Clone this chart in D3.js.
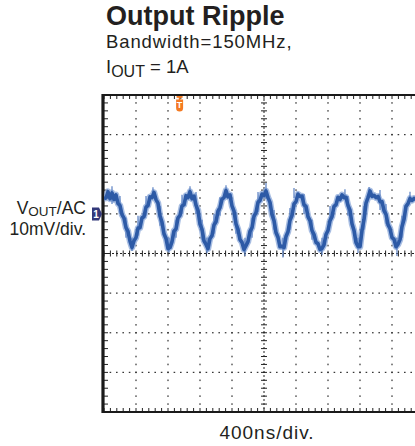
<!DOCTYPE html>
<html><head><meta charset="utf-8">
<script src="https://cdn.jsdelivr.net/npm/d3@7"></script>
<style>
html,body{margin:0;padding:0;background:#fff;}
svg{display:block;}
text{font-family:"Liberation Sans",Arial,Helvetica,sans-serif;fill:#231f20;}
</style></head>
<body>
<svg id="chart" width="415" height="446"></svg>
<script>
const title = "Output Ripple";
const subtitle = "Bandwidth=150MHz,";
const timePerDivNs = 400;          // 400ns/div
const voltPerDivMv = 10;           // 10mV/div
const hDivisions = 10;
const vDivisions = 8;
const sampleStepNs = 25;
// V_OUT (AC) trace in mV, referenced to scope centre line, one sample every 25 ns
const rippleMv = [
 13.9,14.0,15.6,13.8,15.3,13.6,14.8,12.6,12.1,9.8,
 8.9,6.5,5.6,3.1,1.5,3.2,4.0,6.4,6.5,9.0,
 9.3,11.7,12.1,14.3,14.1,15.4,13.6,12.7,9.5,7.9,
 5.0,3.8,1.2,1.5,3.0,5.7,6.2,9.0,9.6,12.0,
 12.3,14.6,14.1,15.6,13.8,14.5,12.2,10.9,7.4,6.1,
 3.2,2.3,1.2,3.8,4.5,7.2,8.0,10.7,11.6,13.7,
 14.1,15.9,14.3,14.8,12.0,10.7,7.5,6.1,3.5,2.8,
 1.0,2.0,3.0,5.6,6.5,9.4,10.3,12.9,13.4,15.0,
 14.6,15.8,14.1,12.9,9.8,8.3,5.3,4.1,1.7,1.8,
 1.5,4.3,5.5,8.4,9.6,12.5,13.1,15.0,14.4,14.5,
 12.3,11.9,9.3,8.3,5.8,4.8,2.8,2.5,1.0,1.3,
 2.2,4.8,5.8,8.3,9.3,11.9,12.3,14.2,13.6,14.8,
 14.1,14.2,12.1,10.9,7.5,5.8,2.8,1.8,1.7,5.8,
 8.6,12.7,14.1,15.8,14.4,14.7,14.1,14.4,13.1,13.1,
 10.8,9.9,7.3,6.3,4.0,3.6,1.7,2.3,3.5,6.8,
 8.6,11.9,12.6,13.9,13.4,13.9,13.6
];
// noise spikes: time ns, low mV, high mV
const spikeTimesNs = [350,812,1287,1762,2237,2725,3175,3662, 612,1075,1525,2025,2375,3012,3313,3825,
  100,200,275,425,525,700,900,975,1150,1225,1375,1450,1650,1850,1925,2125,2325,2500,2600,2825,3050,3250,3450,3525,3725];
const spikeLowMv   = [0.6,0.2,0.0,-0.6,-1.0,-0.4,0.1,-0.6, 14.0,14.0,14.0,14.0,14.0,14.0,14.0,13.5,
  12.5,10.0,4.0,4.5,9.5,7.0,4.0,10.0,10.0,3.5,5.0,9.5,5.0,4.0,10.5,6.0,6.0,10.0,3.5,7.0,9.5,6.0,11.0,7.5,4.0];
const spikeHighMv  = [4.0,4.0,4.0,4.0,4.0,4.0,4.0,4.0, 16.7,17.0,17.2,17.8,16.5,16.2,16.8,15.6,
  17.0,14.5,9.0,9.5,14.5,12.0,8.5,14.8,15.5,8.5,10.0,14.2,10.5,9.0,15.5,11.0,11.5,15.0,8.5,12.0,14.5,12.0,16.0,12.5,9.5];
const channelOffsetMv = 10;   // channel 1 ground marker
const triggerTimeNs = 945;    // trigger marker position
const xLabel = "400ns/div.";

// ---- layout ----
const svg = d3.select("#chart");
const L = 104, R = 424, T = 95, B = 412;
const x = d3.scaleLinear().domain([0, hDivisions*timePerDivNs]).range([L, R]);
const y = d3.scaleLinear().domain([-vDivisions/2*voltPerDivMv, vDivisions/2*voltPerDivMv]).range([B, T]);

const minorT = d3.range(0, hDivisions*timePerDivNs + 1, timePerDivNs/5);
const minorV = d3.range(-vDivisions/2*voltPerDivMv, vDivisions/2*voltPerDivMv + 0.01, voltPerDivMv/5);
const majorT = d3.range(1, hDivisions).map(k => k*timePerDivNs).filter(t => t !== hDivisions/2*timePerDivNs);
const majorV = d3.range(-vDivisions/2+1, vDivisions/2).map(k => k*voltPerDivMv).filter(v => v !== 0);

const grid = svg.append("g").attr("fill", "#333");
majorT.forEach(t => {
  grid.selectAll(null).data(minorV.slice(1, -1)).enter().append("rect")
    .attr("x", x(t) - 0.6).attr("y", d => y(d) - 0.8).attr("width", 1.2).attr("height", 1.6);
});
majorV.forEach(v => {
  grid.selectAll(null).data(minorT.slice(1, -1)).enter().append("rect")
    .attr("x", d => x(d) - 0.8).attr("y", y(v) - 0.6).attr("width", 1.6).attr("height", 1.2);
});

const axes = svg.append("g").attr("stroke", "#222");
axes.append("line").attr("x1", x(2000)).attr("x2", x(2000)).attr("y1", T).attr("y2", B)
  .attr("stroke-width", 1).attr("stroke-dasharray", "2,2");
axes.selectAll(null).data(minorV).enter().append("line")
  .attr("x1", x(2000) - 3).attr("x2", x(2000) + 3).attr("y1", d => y(d)).attr("y2", d => y(d)).attr("stroke-width", 1);
axes.append("line").attr("x1", L).attr("x2", R).attr("y1", y(0)).attr("y2", y(0))
  .attr("stroke-width", 1).attr("stroke-dasharray", "2,2");
axes.selectAll(null).data(minorT).enter().append("line")
  .attr("y1", y(0) - 3).attr("y2", y(0) + 3).attr("x1", d => x(d)).attr("x2", d => x(d)).attr("stroke-width", 1);
axes.selectAll(null).data(minorT).enter().append("line")
  .attr("y1", T).attr("y2", T + 4).attr("x1", d => x(d)).attr("x2", d => x(d)).attr("stroke-width", 1);
axes.selectAll(null).data(minorT).enter().append("line")
  .attr("y1", B).attr("y2", B - 4).attr("x1", d => x(d)).attr("x2", d => x(d)).attr("stroke-width", 1);
axes.selectAll(null).data(minorV).enter().append("line")
  .attr("x1", L).attr("x2", L + 4).attr("y1", d => y(d)).attr("y2", d => y(d)).attr("stroke-width", 1);

const frame = svg.append("g").attr("stroke", "#1a1a1a");
frame.append("line").attr("x1", L - 2).attr("x2", R).attr("y1", T).attr("y2", T).attr("stroke-width", 2.2);
frame.append("line").attr("x1", L - 2).attr("x2", R).attr("y1", B).attr("y2", B).attr("stroke-width", 2.2);
frame.append("line").attr("x1", L - 1).attr("x2", L - 1).attr("y1", T - 1).attr("y2", B + 1).attr("stroke-width", 3.2);

// trace
svg.append("defs").append("clipPath").attr("id", "plotclip")
  .append("rect").attr("x", L).attr("y", T).attr("width", R - L).attr("height", B - T);
const traceG = svg.append("g").attr("clip-path", "url(#plotclip)");
const pts = rippleMv.map((v, i) => [i*sampleStepNs, v]);
const line = d3.line().x(d => x(d[0])).y(d => y(d[1]));
traceG.append("path").datum(pts).attr("d", line).attr("fill", "none")
  .attr("stroke", "#8aa7d8").attr("stroke-width", 6.5).attr("stroke-opacity", 0.75).attr("stroke-linejoin", "round");
traceG.selectAll(null).data(spikeTimesNs.map((t, i) => [t, spikeLowMv[i], spikeHighMv[i]])).enter().append("line")
  .attr("x1", d => x(d[0])).attr("x2", d => x(d[0])).attr("y1", d => y(d[1])).attr("y2", d => y(d[2]))
  .attr("stroke", "#5a80c3").attr("stroke-width", 1.2);
traceG.append("path").datum(pts).attr("d", line).attr("fill", "none")
  .attr("stroke", "#2d5aa6").attr("stroke-width", 3.6).attr("stroke-linejoin", "round");

// channel marker "1"
const cy = y(channelOffsetMv);
svg.append("path")
  .attr("d", `M${L-12},${cy-6.5} L${L-5},${cy-6.5} L${L-2},${cy} L${L-5},${cy+6.5} L${L-12},${cy+6.5} Z`)
  .attr("fill", "#33387a");
svg.append("text").attr("x", L - 8).attr("y", cy + 4).attr("text-anchor", "middle")
  .style("fill", "#fff").style("font-size", "10px").style("font-weight", "bold").text("1");

// trigger marker "T"
const tx = x(triggerTimeNs);
const trig = svg.append("g").attr("fill", "#f47a22");
trig.append("rect").attr("x", tx - 3).attr("y", T + 1).attr("width", 6).attr("height", 1.8);
trig.append("rect").attr("x", tx - 0.8).attr("y", T + 2).attr("width", 1.6).attr("height", 3);
trig.append("path")
  .attr("d", `M${tx-3.5},${T+4.5} L${tx+3.5},${T+4.5} L${tx+3.5},${T+13} Q${tx+3.5},${T+16.5} ${tx},${T+16.5} Q${tx-3.5},${T+16.5} ${tx-3.5},${T+13} Z`);
svg.append("text").attr("x", tx).attr("y", T + 13).attr("text-anchor", "middle")
  .style("fill", "#fff").style("font-size", "9px").style("font-weight", "bold").text("T");

// texts
svg.append("text").attr("x", 106).attr("y", 25).style("font-size", "27px").style("font-weight", "bold").text(title);
svg.append("text").attr("x", 106).attr("y", 48).style("font-size", "18.5px").style("letter-spacing", "0.9px").text(subtitle);
const iout = svg.append("text").attr("x", 106).attr("y", 72.5).style("font-size", "18.5px");
iout.append("tspan").text("I");
iout.append("tspan").attr("dy", 4.5).style("font-size", "16px").text("OUT");
iout.append("tspan").attr("dy", -4.5).text(" = 1A");

const yl = svg.append("text").attr("x", 86).attr("y", 213.5).attr("text-anchor", "end").style("font-size", "17.5px");
yl.append("tspan").text("V");
yl.append("tspan").attr("dy", 2.5).style("font-size", "13.5px").text("OUT");
yl.append("tspan").attr("dy", -2.5).text("/AC");
svg.append("text").attr("x", 86).attr("y", 235).attr("text-anchor", "end").style("font-size", "17.5px").text("10mV/div.");

svg.append("text").attr("x", 267).attr("y", 439).attr("text-anchor", "middle").style("font-size", "19px").style("letter-spacing", "1px").text(xLabel);
</script>
</body></html>
